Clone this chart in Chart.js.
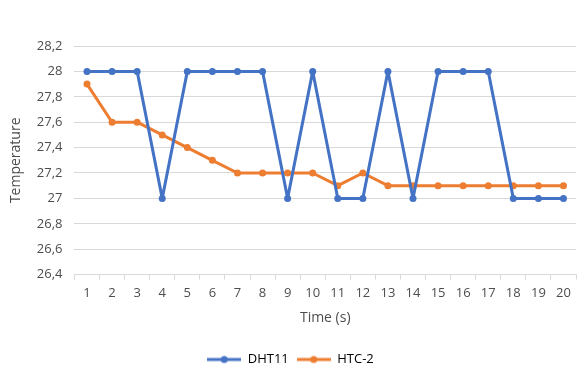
<!DOCTYPE html>
<html>
<head>
<meta charset="utf-8">
<script src="https://cdn.jsdelivr.net/npm/chart.js@4"></script>
<style>
  html, body { margin: 0; padding: 0; background: #fff; }
  #wrap { width: 580px; height: 369px; position: relative; }
</style>
</head>
<body>
<div id="wrap"><canvas id="chart"></canvas></div>
<script>
const timeLabels = ["1","2","3","4","5","6","7","8","9","10","11","12","13","14","15","16","17","18","19","20"];
const dht11 = [28, 28, 28, 27, 28, 28, 28, 28, 27, 28, 27, 27, 28, 27, 28, 28, 28, 27, 27, 27];
const htc2 = [27.9, 27.6, 27.6, 27.5, 27.4, 27.3, 27.2, 27.2, 27.2, 27.2, 27.1, 27.2, 27.1, 27.1, 27.1, 27.1, 27.1, 27.1, 27.1, 27.1];

const BLUE = "#4472C4";
const ORANGE = "#ED7D31";
const TEXT = "#4d4d4d";

// legend marker: short line with a dot, like the spreadsheet legend
function legendMarker(color) {
  const c = document.createElement("canvas");
  c.width = 34; c.height = 10;
  const g = c.getContext("2d");
  g.strokeStyle = color; g.lineWidth = 3;
  g.beginPath(); g.moveTo(0, 5); g.lineTo(34, 5); g.stroke();
  g.fillStyle = color;
  g.beginPath(); g.arc(17, 5, 3.5, 0, Math.PI * 2); g.fill();
  return c;
}

Chart.defaults.font.family = "'Open Sans', 'Liberation Sans', sans-serif";
Chart.defaults.font.size = 13;
Chart.defaults.color = TEXT;

const lineStyle = {
  borderWidth: 3, pointRadius: 3.5, pointBorderWidth: 0, tension: 0,
  pointStyle: "circle", borderJoinStyle: "round", borderCapStyle: "round",
};

new Chart(document.getElementById("chart"), {
  type: "line",
  data: {
    labels: timeLabels,
    datasets: [
      { label: "DHT11", data: dht11, borderColor: BLUE, backgroundColor: BLUE, ...lineStyle },
      { label: "HTC-2", data: htc2, borderColor: ORANGE, backgroundColor: ORANGE, ...lineStyle },
    ],
  },
  options: {
    responsive: true,
    maintainAspectRatio: false,
    animation: false,
    layout: { padding: { top: 46, right: 2, left: 3, bottom: -7 } },
    scales: {
      x: {
        offset: true,
        grid: { offset: true, drawOnChartArea: false, drawTicks: true, tickLength: 5, color: "#d9d9d9" },
        border: { color: "#d9d9d9" },
        ticks: { color: TEXT, padding: 6, maxRotation: 0, autoSkip: false, font: { size: 13 } },
        title: { display: true, text: "Time (s)", color: TEXT, font: { size: 14 }, padding: { top: 2, bottom: 19 } },
      },
      y: {
        min: 26.4, max: 28.2,
        grid: { color: "#d9d9d9", drawTicks: false },
        border: { display: false },
        ticks: {
          stepSize: 0.2, padding: 12, color: TEXT, font: { size: 13 },
          callback: v => String(Math.round(v * 10) / 10).replace(".", ","),
        },
        title: { display: true, text: "Temperature", color: TEXT, font: { size: 14 }, padding: { top: 5, bottom: 0 } },
      },
    },
    plugins: {
      legend: {
        position: "bottom",
        labels: {
          usePointStyle: true,
          pointStyleWidth: 34,
          boxHeight: 10,
          color: TEXT,
          padding: 8,
          font: { size: 13 },
          generateLabels: chart => chart.data.datasets.map((d, i) => ({
            text: d.label, fillStyle: d.borderColor, strokeStyle: d.borderColor,
            pointStyle: legendMarker(d.borderColor), datasetIndex: i, hidden: false, lineWidth: 0,
          })),
        },
      },
      tooltip: { enabled: false },
    },
  },
});
</script>
</body>
</html>
